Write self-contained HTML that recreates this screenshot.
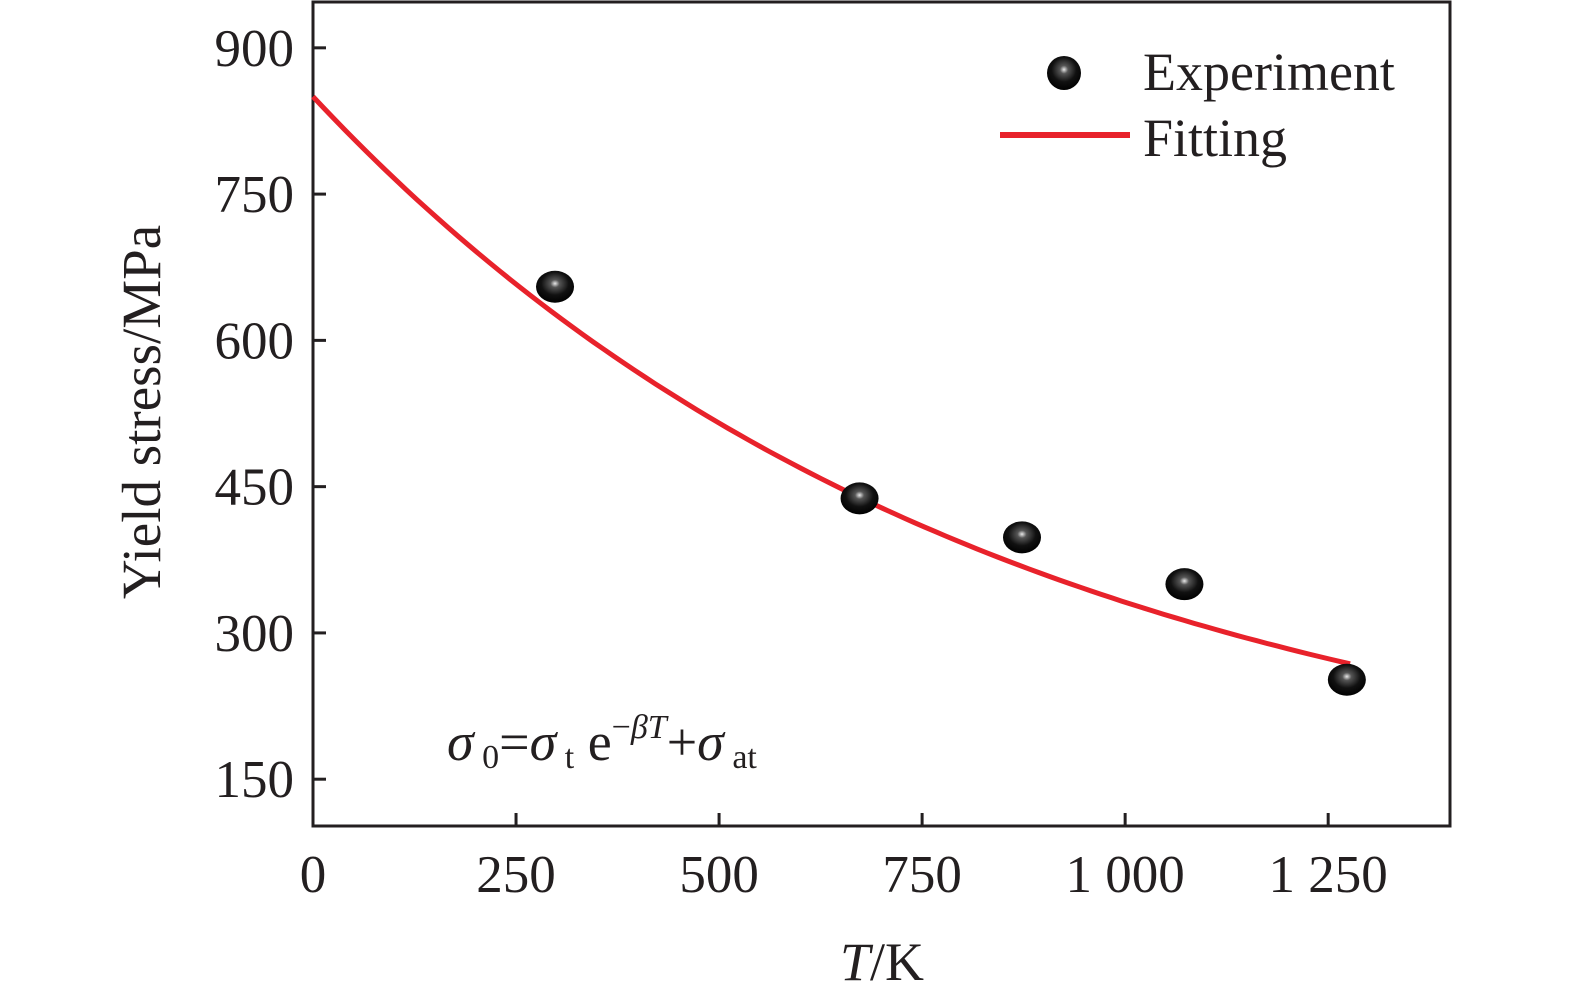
<!DOCTYPE html>
<html><head><meta charset="utf-8"><style>
body{margin:0;background:#fff;}
svg text{font-family:"Liberation Serif",serif;fill:#231f20;}
</style></head><body>
<svg id="chart" width="1575" height="1001" viewBox="0 0 1575 1001">
<defs>
<radialGradient id="ball" cx="0.5" cy="0.4" r="0.6">
<stop offset="0" stop-color="#e8e8e8"/><stop offset="0.2" stop-color="#555"/><stop offset="0.6" stop-color="#111"/><stop offset="1" stop-color="#000"/>
</radialGradient>
</defs>
<g id="axes"></g>
<g id="marks"></g>
<g>
<circle cx="1064" cy="73" r="17" fill="url(#ball)"/>
<text x="1143" y="90" font-size="54">Experiment</text>
<line x1="1000" y1="135" x2="1130" y2="135" stroke="#e8222b" stroke-width="6"/>
<text x="1143" y="156" font-size="54">Fitting</text>
</g>
<text x="447" y="760" font-size="54"><tspan font-style="italic">σ</tspan><tspan font-size="34" dy="8"> 0</tspan><tspan dy="-8">=</tspan><tspan font-style="italic">σ</tspan><tspan font-size="34" dy="8"> t</tspan><tspan dy="-8"> e</tspan><tspan font-size="34" dy="-22">−</tspan><tspan font-size="34" font-style="italic">βT</tspan><tspan dy="22">+</tspan><tspan font-style="italic">σ</tspan><tspan font-size="34" dy="8"> at</tspan></text>
<text x="882" y="980" font-size="54" text-anchor="middle"><tspan font-style="italic">T</tspan>/K</text>
<text transform="translate(160,412) rotate(-90)" font-size="55" text-anchor="middle">Yield stress/MPa</text>
</svg>
<script>
const xTicks=[0,250,500,750,1000,1250];
const xTickLabels=["0","250","500","750","1 000","1 250"];
const yTicks=[150,300,450,600,750,900];
const yTickLabels=["150","300","450","600","750","900"];
const expT=[298,673,873,1073,1273];
const expStress=[655,438,398,350,252];
const fitA=[742];
const fitB=[0.0012];
const fitC=[108];
const fitRange=[0,1277];

const L=313,R=1450,T=2,B=826;
const xMin=0,xMax=1400,yMin=102,yMax=947;
const sx=v=>L+(v-xMin)/(xMax-xMin)*(R-L);
const sy=v=>B-(v-yMin)/(yMax-yMin)*(B-T);
const NS="http://www.w3.org/2000/svg";
function mk(tag,attrs,parent){const e=document.createElementNS(NS,tag);for(const k in attrs)e.setAttribute(k,attrs[k]);parent.appendChild(e);return e;}
const axes=document.getElementById('axes'),marks=document.getElementById('marks');
const frame=mk('rect',{x:L,y:T,width:R-L,height:B-T,fill:'none',stroke:'#231f20','stroke-width':3},axes);


xTicks.forEach((v,i)=>{
 const t=mk('line',{x1:sx(v),x2:sx(v),y1:B,y2:B-13,stroke:'#231f20','stroke-width':3},axes);
 
 
 const l=mk('text',{x:sx(v),y:892,'font-size':53,'text-anchor':'middle'},axes);
 l.textContent=xTickLabels[i];
 
 
});
yTicks.forEach((v,i)=>{
 const t=mk('line',{x1:L,x2:L+13,y1:sy(v),y2:sy(v),stroke:'#231f20','stroke-width':3},axes);
 
 
 const l=mk('text',{x:294,y:sy(v)+18,'font-size':53,'text-anchor':'end'},axes);
 l.textContent=yTickLabels[i];
 
 
});
let d='';
for(let i=0;i<=100;i++){const t=fitRange[0]+(fitRange[1]-fitRange[0])*i/100;const s=fitA[0]*Math.exp(-fitB[0]*t)+fitC[0];d+=(i?'L':'M')+sx(t).toFixed(1)+','+sy(s).toFixed(1);}
const p=mk('path',{d:d,fill:'none',stroke:'#e8222b','stroke-width':5},marks);


expT.forEach((t,i)=>{
 const c=mk('ellipse',{cx:sx(t),cy:sy(expStress[i]),rx:19,ry:16,fill:'url(#ball)'},marks);
 
 
});
</script>
</body></html>
